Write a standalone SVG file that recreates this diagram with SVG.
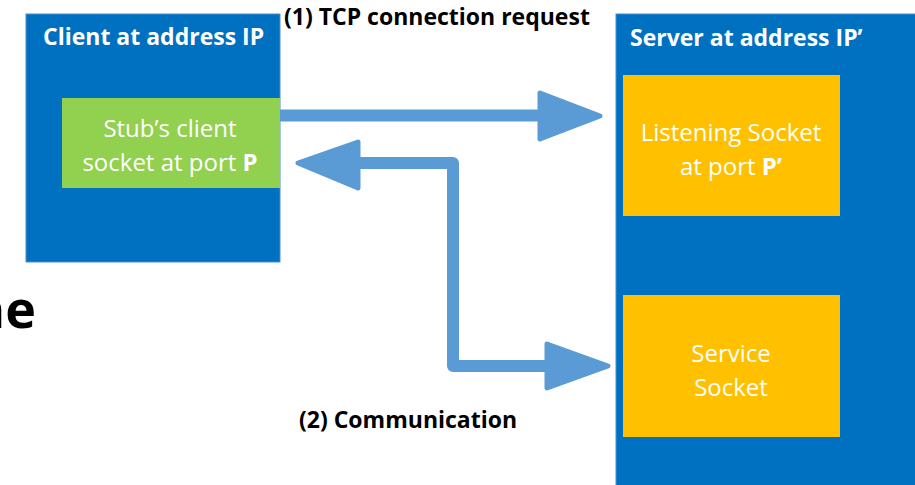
<svg xmlns="http://www.w3.org/2000/svg" width="915" height="485" viewBox="0 0 915 485">
<style>
.host{fill:#0070C0;stroke:#4A8FD0;stroke-width:1}
.green{fill:#92D050}
.yellow{fill:#FFC000}
.title{font-family:"Open Sans","Liberation Sans",sans-serif;font-weight:bold;font-size:23px;fill:#fff}
.inner{font-family:"Open Sans","Liberation Sans",sans-serif;font-size:24px;fill:#fff;text-anchor:middle}
.lbl{font-family:"Open Sans","Liberation Sans",sans-serif;font-weight:bold;font-size:23px;fill:#000}
.shaft{fill:none;stroke:#5B9BD5;stroke-width:12;stroke-linejoin:round}
.head{fill:#5B9BD5;stroke:#5B9BD5;stroke-width:5;stroke-linejoin:round}
</style>
<rect width="915" height="485" fill="#fff"/>
<text x="36" y="328" font-family="Open Sans, Liberation Sans, sans-serif" font-weight="bold" font-size="52" text-anchor="end" fill="#000">ne</text>
<g id="client">
<rect class="host" x="26" y="14" width="254" height="248"/>
<text class="title" x="43" y="45">Client at address IP</text>
</g>
<g id="stub">
<rect class="green" x="62" y="98" width="218" height="90"/>
<text class="inner" x="170" y="137">Stub’s client</text>
<text class="inner" x="170" y="171">socket at port <tspan font-weight="bold">P</tspan></text>
</g>
<g id="server">
<rect class="host" x="616" y="14" width="300" height="475"/>
<text class="title" x="630" y="46">Server at address IP’</text>
</g>
<g id="listening">
<rect class="yellow" x="623" y="75" width="217" height="141"/>
<text class="inner" x="731" y="141">Listening Socket</text>
<text class="inner" x="731" y="175">at port <tspan font-weight="bold">P’</tspan></text>
</g>
<g id="service">
<rect class="yellow" x="623" y="295" width="217" height="142"/>
<text class="inner" x="731" y="362">Service</text>
<text class="inner" x="731" y="396">Socket</text>
</g>
<g id="connectors">
<path class="shaft" d="M280 115.5 H545"/>
<polygon class="head" points="540,93 600,116 540,139"/>
<path class="shaft" d="M355 163 H453 V366 H550"/>
<polygon class="head" points="358,142 298,163 358,188"/>
<polygon class="head" points="547,344 608,366 547,388"/>
<text class="lbl" x="284" y="25">(1) TCP connection request</text>
<text class="lbl" x="299" y="428">(2) Communication</text>
</g>
</svg>
